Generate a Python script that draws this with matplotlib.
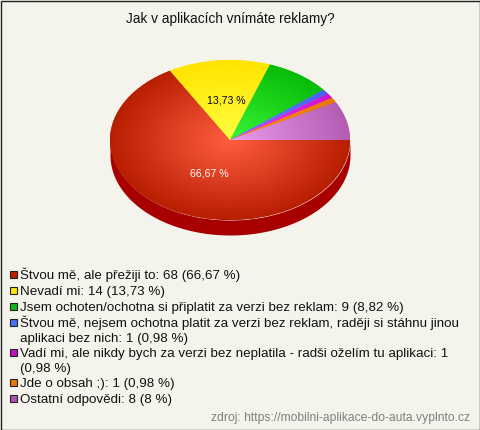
import numpy as np
import matplotlib
matplotlib.use('Agg')
import matplotlib.pyplot as plt
from matplotlib.colors import LinearSegmentedColormap
from matplotlib.patches import Rectangle

plt.rcParams['font.family'] = ['Liberation Sans', 'DejaVu Sans']

title = 'Jak v aplikacích vnímáte reklamy?'
values = [68, 14, 9, 1, 1, 1, 8]
# gradient colours, middle of the pie -> rim
inner_colors = ['#FF5E40', '#FFFF40', '#38F438', '#7088FF', '#F040F0', '#FF9010', '#EC9CEE']
outer_colors = ['#B81E00', '#FFE400', '#08BC08', '#4860F0', '#D010D0', '#E87800', '#B45CB4']
legend_colors = ['#C01E00', '#FFE800', '#10B810', '#4870F0', '#C010C0', '#E87800', '#B050B0']
# one entry per text line, markers sit on the lines named in legend_marker_lines
legend_lines = [
    'Štvou mě, ale přežiji to: 68 (66,67 %)',
    'Nevadí mi: 14 (13,73 %)',
    'Jsem ochoten/ochotna si připlatit za verzi bez reklam: 9 (8,82 %)',
    'Štvou mě, nejsem ochotna platit za verzi bez reklam, raději si stáhnu jinou',
    'aplikaci bez nich: 1 (0,98 %)',
    'Vadí mi, ale nikdy bych za verzi bez neplatila - radši oželím tu aplikaci: 1',
    '(0,98 %)',
    'Jde o obsah ;): 1 (0,98 %)',
    'Ostatní odpovědi: 8 (8 %)',
]
legend_baselines = [279, 295.5, 311.5, 327.5, 342, 357, 372, 387, 403]
legend_marker_lines = [0, 1, 2, 3, 5, 7, 8]
source = 'zdroj: https://mobilni-aplikace-do-auta.vyplnto.cz'

W, H = 480, 430
bg = '#F5F4EC'
fig = plt.figure(figsize=(W / 100, H / 100), dpi=100, facecolor=bg)

# overlay in pixel coordinates for the text and legend
ax = fig.add_axes([0, 0, 1, 1])
ax.set_xlim(0, W)
ax.set_ylim(H, 0)
ax.axis('off')
ax.add_patch(Rectangle((0.5, 0.5), W - 1, H - 1, fc='none', ec='#222222', lw=1))

ax.text(230, 19, title, fontsize=9.8, ha='center', va='center', color='#111111')

for line, base in zip(legend_lines, legend_baselines):
    ax.text(20, base, line, fontsize=9.62, va='baseline', ha='left', color='#111111')
for idx, color in zip(legend_marker_lines, legend_colors):
    ax.add_patch(Rectangle((9.5, legend_baselines[idx] - 8.5), 7, 7, fc=color, ec='#222222', lw=0.8))

ax.text(470, 418, source, fontsize=8.7, ha='right', va='center', color='#808080')

# pie axes: 240x160 px ellipse plus 15 px of side wall
depth = 15 / 80
pie_ax = fig.add_axes([110 / W, 1 - 235 / H, 240 / W, 175 / H])
pie_ax.patch.set_alpha(0)
wedges, _ = pie_ax.pie(values, startangle=0, counterclock=False, radius=1, colors=outer_colors)

# side wall
t = np.linspace(np.pi, 2 * np.pi, 200)
pie_ax.fill_between(np.cos(t), np.sin(t), np.sin(t) - depth, color='#A80000', lw=0, zorder=0)

yy, xx = np.mgrid[1:-1:300j, -1:1:300j]
rr = np.clip(np.hypot(xx, yy), 0, 1)
for wedge, c0, c1 in zip(wedges, inner_colors, outer_colors):
    cmap = LinearSegmentedColormap.from_list('g', [c0, c1])
    im = pie_ax.imshow(rr, extent=[-1, 1, -1, 1], cmap=cmap, vmin=0, vmax=1, aspect='auto', zorder=2)
    im.set_clip_path(wedge)

pie_ax.set_aspect('auto')
pie_ax.set_xlim(-1, 1)
pie_ax.set_ylim(-1 - depth, 1)
pie_ax.axis('off')

# slice labels on top
ax.set_zorder(3)
ax.text(209.5, 174, '66,67 %', fontsize=7.6, ha='center', va='center', color='white')
ax.text(226, 100.5, '13,73 %', fontsize=7.6, ha='center', va='center', color='black')

fig.savefig('out.png', dpi=100, facecolor=bg)
